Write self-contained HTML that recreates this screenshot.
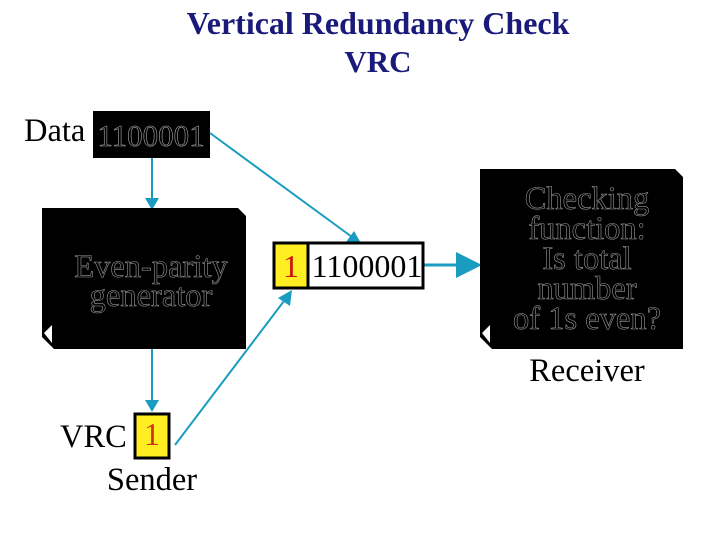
<!DOCTYPE html>
<html><head><meta charset="utf-8"><style>
html,body{margin:0;padding:0;background:#fff;width:720px;height:540px;overflow:hidden}
</style></head><body>
<svg width="720" height="540" viewBox="0 0 720 540" xmlns="http://www.w3.org/2000/svg" font-family="Liberation Serif, serif">
<text x="378" y="34" text-anchor="middle" font-size="32" font-weight="bold" fill="#1a1a7a">Vertical Redundancy Check</text>
<text x="378" y="72" text-anchor="middle" font-size="31" font-weight="bold" fill="#1a1a7a">VRC</text>

<text x="24" y="141" font-size="32.5" fill="#000">Data</text>
<rect x="93" y="111" width="117" height="47" fill="#000"/>
<text x="151" y="146" text-anchor="middle" font-size="31" fill="#000" stroke="#aaa" stroke-width="0.6">1100001</text>

<g stroke="#1a9cc0" stroke-width="2" fill="#1a9cc0">
<line x1="152" y1="158" x2="152" y2="200"/>
<polygon points="145,198 159,198 152,210" stroke="none"/>
<line x1="152" y1="349" x2="152" y2="402"/>
<polygon points="145,400 159,400 152,412" stroke="none"/>
<line x1="210" y1="133" x2="352" y2="237"/>
<polygon points="346,242 354,231 362,245" stroke="none"/>
<line x1="175" y1="445" x2="284" y2="301"/>
<polygon points="278,298 290,306 292,290" stroke="none"/>
<line x1="424" y1="265" x2="462" y2="265" stroke-width="3"/>
<polygon points="456,252 456,278 482,265" stroke="none"/>
</g>

<polygon points="42,208 238,208 246,216 246,349 54,349 42,337" fill="#000"/>
<polygon points="44,333 52,325 52,343" fill="#fff"/>
<text x="151" y="277" text-anchor="middle" font-size="32.5" fill="#000" stroke="#999" stroke-width="0.6">Even-parity</text>
<text x="151" y="306" text-anchor="middle" font-size="32.5" fill="#000" stroke="#999" stroke-width="0.6">generator</text>

<rect x="274" y="243" width="149" height="45" fill="#fff" stroke="#000" stroke-width="3"/>
<rect x="275.5" y="244.5" width="32" height="42" fill="#ffee22"/>
<line x1="308" y1="243" x2="308" y2="288" stroke="#000" stroke-width="3"/>
<text x="291" y="277" text-anchor="middle" font-size="32" fill="#cc1111">1</text>
<text x="367" y="277" text-anchor="middle" font-size="32" fill="#000">1100001</text>

<polygon points="480,169 675,169 683,177 683,349 492,349 480,337" fill="#000"/>
<polygon points="482,333 490,325 490,343" fill="#fff"/>
<g text-anchor="middle" font-size="32.5" fill="#000" stroke="#999" stroke-width="0.6">
<text x="587" y="209">Checking</text>
<text x="587" y="239">function:</text>
<text x="587" y="269">Is total</text>
<text x="587" y="299">number</text>
<text x="587" y="329">of 1s even?</text>
</g>
<text x="587" y="381" text-anchor="middle" font-size="32.5" fill="#000">Receiver</text>

<text x="60" y="447" font-size="32.5" fill="#000">VRC</text>
<rect x="135" y="414" width="34" height="44" fill="#ffee22" stroke="#000" stroke-width="3"/>
<text x="152" y="445" text-anchor="middle" font-size="32" fill="#cc3311">1</text>
<text x="152" y="490" text-anchor="middle" font-size="32.5" fill="#000">Sender</text>
</svg>
</body></html>
